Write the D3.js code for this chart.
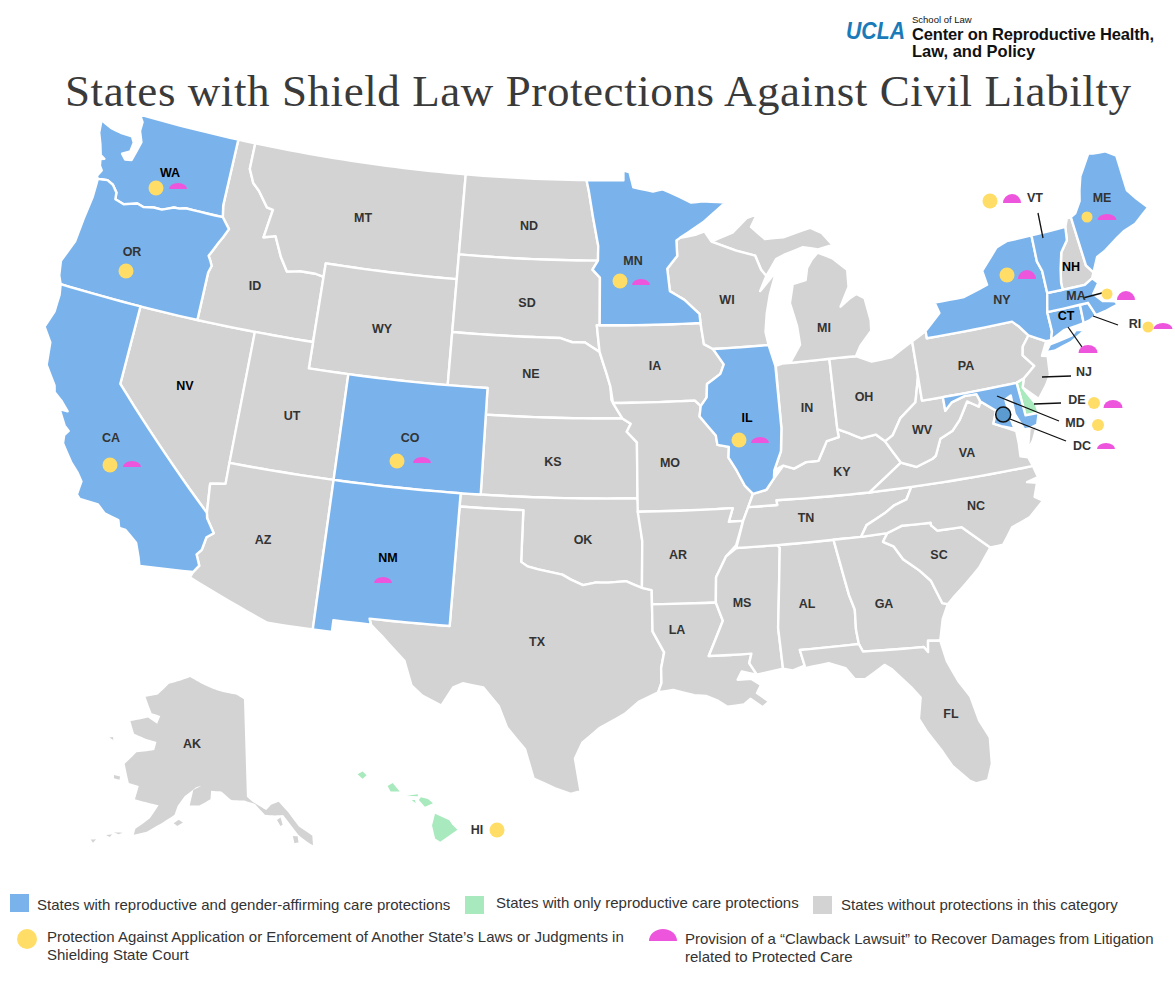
<![CDATA[<!DOCTYPE html>
<html><head><meta charset="utf-8">
<script src="https://cdn.jsdelivr.net/npm/d3@7"></script>
<style>
html,body{margin:0;padding:0;background:#fff}
svg{display:block}
text{font-family:"Liberation Sans",Arial,sans-serif}
</style></head><body><svg id="c" width="1175" height="1000"></svg><script>
// ---------- categories ----------
const bothCareStates = ["WA","OR","CA","CO","NM","MN","IL","NY","VT","ME","MA","CT","RI","MD"];
const reproOnlyStates = ["DE","HI"];
const shieldCourtStates = ["WA","OR","CA","CO","MN","IL","NY","VT","ME","MA","RI","DE","MD","HI"];
const clawbackStates = ["WA","CA","CO","NM","MN","IL","NY","VT","ME","MA","RI","CT","DE","DC"];
const darkLabelStates = ["WA","NV","IL","NM","NH","CT"];
const legendRows = [
 "States with reproductive and gender-affirming care protections",
 "States with only reproductive care protections",
 "States without protections in this category"];
const legendShield = ["Protection Against Application or Enforcement of Another State\u2019s Laws or Judgments in","Shielding State Court"];
const legendClawback = ["Provision of a \u201CClawback Lawsuit\u201D to Recover Damages from Litigation","related to Protected Care"];
const titleText = "States with Shield Law Protections Against Civil Liabilty";

// ---------- state outlines (longitude, latitude) ----------
const WA=[[[-117.03,49],[-117.04,46.42],[-116.92,45.99],[-118.98,46],[-119.3,45.93],[-119.6,45.92],[-120.2,45.73],[-120.65,45.73],[-121.2,45.65],[-121.55,45.72],[-122.25,45.55],[-122.75,45.65],[-122.8,45.9],[-123.1,46.15],[-123.45,46.26],[-123.97,46.2],[-124.07,46.3],[-123.9,46.55],[-124.07,46.7],[-124.15,46.95],[-123.95,47],[-124.2,47.1],[-124.4,47.5],[-124.65,47.9],[-124.73,48.38],[-124.1,48.2],[-123.5,48.13],[-122.85,48.12],[-122.65,47.9],[-122.7,47.55],[-123.1,47.38],[-122.85,47.2],[-122.5,47.25],[-122.38,47.6],[-122.25,48],[-122.5,48.4],[-122.5,48.75],[-122.76,49]]];
const OR=[[[-123.97,46.2],[-123.45,46.26],[-123.1,46.15],[-122.8,45.9],[-122.75,45.65],[-122.25,45.55],[-121.55,45.72],[-121.2,45.65],[-120.65,45.73],[-120.2,45.73],[-119.6,45.92],[-119.3,45.93],[-118.98,46],[-116.92,45.99],[-116.46,45.6],[-116.67,45.25],[-116.85,45],[-117.2,44.45],[-117.03,44.25],[-116.93,44.1],[-117.03,43.83],[-117.03,42],[-124.21,42],[-124.41,42.3],[-124.55,42.84],[-124.15,43.7],[-124.07,44.6],[-123.95,45.5]]];
const CA=[[[-124.21,42],[-120,42],[-120,39],[-114.63,35],[-114.57,34.8],[-114.14,34.3],[-114.43,34.1],[-114.53,33.6],[-114.72,33.4],[-114.5,33],[-114.72,32.72],[-117.12,32.53],[-117.25,32.85],[-117.5,33.35],[-118.1,33.73],[-118.4,33.75],[-118.52,34.03],[-119.2,34.15],[-119.6,34.42],[-120.47,34.45],[-120.65,34.58],[-120.6,35.1],[-120.9,35.4],[-121.3,35.7],[-121.9,36.3],[-121.95,36.6],[-121.8,36.8],[-122.05,36.95],[-122.5,37.5],[-122.1,37.5],[-122.5,37.8],[-122.95,38.05],[-123.05,38.3],[-123.7,38.95],[-123.85,39.8],[-124.35,40.3],[-124.1,40.95],[-124.1,41.6]]];
const NV=[[[-120,42],[-114.04,42],[-114.04,36.2],[-114.75,36.1],[-114.63,35],[-120,39]]];
const ID=[[[-117.03,49],[-116.05,49],[-116.05,48],[-115.7,47.5],[-115.3,47.25],[-114.7,46.7],[-114.35,46.65],[-114.56,45.56],[-113.94,45.69],[-113.45,44.95],[-113,44.45],[-112.3,44.55],[-111.5,44.55],[-111.05,44.48],[-111.05,42],[-117.03,42],[-117.03,43.83],[-116.93,44.1],[-117.03,44.25],[-117.2,44.45],[-116.85,45],[-116.67,45.25],[-116.46,45.6],[-116.92,45.99],[-117.04,46.42]]];
const MT=[[[-116.05,49],[-104.05,49],[-104.05,45],[-111.05,45],[-111.05,44.48],[-111.5,44.55],[-112.3,44.55],[-113,44.45],[-113.45,44.95],[-113.94,45.69],[-114.56,45.56],[-114.35,46.65],[-114.7,46.7],[-115.3,47.25],[-115.7,47.5],[-116.05,48]]];
const WY=[[[-111.05,45],[-104.05,45],[-104.05,41],[-111.05,41]]];
const UT=[[[-114.05,42],[-111.05,42],[-111.05,41],[-109.05,41],[-109.05,37],[-114.05,37]]];
const CO=[[[-109.05,41],[-102.05,41],[-102.05,37],[-109.05,37]]];
const AZ=[[[-114.05,37],[-109.05,37],[-109.05,31.33],[-111.07,31.33],[-114.81,32.5],[-114.72,32.72],[-114.5,33],[-114.72,33.4],[-114.53,33.6],[-114.43,34.1],[-114.14,34.3],[-114.57,34.8],[-114.63,35],[-114.75,36.1],[-114.04,36.2]]];
const NM=[[[-109.05,37],[-103,37],[-103.05,32],[-106.62,32],[-106.53,31.78],[-108.2,31.78],[-108.2,31.33],[-109.05,31.33]]];
const ND=[[[-104.05,49],[-97.23,49],[-97.1,48.6],[-96.85,47.6],[-96.55,46.5],[-96.56,45.94],[-104.05,45.94]]];
const SD=[[[-104.05,45.94],[-96.56,45.94],[-96.85,45.6],[-96.45,45.3],[-96.45,43.5],[-96.6,43.5],[-96.45,42.5],[-97.2,42.85],[-97.85,42.85],[-98.5,43],[-104.05,43]]];
const NE=[[[-104.05,43],[-98.5,43],[-97.85,42.85],[-97.2,42.85],[-96.45,42.5],[-96.1,41.7],[-95.9,41.2],[-95.85,40.7],[-95.31,40],[-102.05,40],[-102.05,41],[-104.05,41]]];
const KS=[[[-102.05,40],[-95.31,40],[-94.9,39.8],[-95.1,39.5],[-94.61,39.1],[-94.62,37],[-102.05,37]]];
const OK=[[[-103,37],[-94.62,37],[-94.43,35.4],[-94.48,33.64],[-95.2,33.9],[-96,33.85],[-96.6,33.85],[-97.15,33.75],[-97.7,33.95],[-98.1,34.13],[-99.2,34.3],[-99.7,34.4],[-100,34.56],[-100,36.5],[-103,36.5]]];
const TX=[[[-103,36.5],[-100,36.5],[-100,34.56],[-99.7,34.4],[-99.2,34.3],[-98.1,34.13],[-97.7,33.95],[-97.15,33.75],[-96.6,33.85],[-96,33.85],[-95.2,33.9],[-94.48,33.64],[-94.04,33.55],[-94.04,33.02],[-94.04,32],[-93.55,31.2],[-93.7,30.6],[-93.7,30.05],[-93.85,29.7],[-94.7,29.35],[-95.3,28.9],[-96.4,28.35],[-97.1,27.8],[-97.4,27.2],[-97.15,25.96],[-97.55,25.85],[-98.2,26.05],[-99.1,26.4],[-99.5,27.5],[-100.3,28.3],[-100.7,29.1],[-101.4,29.77],[-102.3,29.88],[-102.7,29.7],[-103.15,28.98],[-104,29.3],[-104.5,29.65],[-104.9,30.55],[-106,31.4],[-106.53,31.78],[-106.62,32],[-103.05,32]]];
const MN=[[[-97.23,49],[-95.15,49],[-95.15,49.38],[-94.8,49.3],[-94.6,48.72],[-93.5,48.55],[-92.95,48.62],[-92,48.3],[-91.4,48.07],[-90.75,48.1],[-89.5,48],[-90.8,47.3],[-92.1,46.75],[-92.3,46.66],[-92.29,46.07],[-92.85,45.6],[-92.75,44.75],[-92,44.4],[-91.25,43.85],[-91.22,43.5],[-96.45,43.5],[-96.45,45.3],[-96.85,45.6],[-96.56,45.94],[-96.55,46.5],[-96.85,47.6],[-97.1,48.6]]];
const IA=[[[-96.6,43.5],[-91.22,43.5],[-91.1,42.7],[-90.65,42.5],[-90.15,41.9],[-90.35,41.55],[-91.05,41.2],[-91.1,40.7],[-91.42,40.38],[-91.7,40.6],[-95.77,40.58],[-95.9,41.2],[-96.1,41.7],[-96.45,42.5]]];
const MO=[[[-95.77,40.58],[-91.7,40.6],[-91.42,40.38],[-91.5,40],[-90.75,39.25],[-90.7,38.9],[-90.15,38.8],[-90.2,38.4],[-89.85,37.9],[-89.5,37.3],[-89.15,36.98],[-89.42,36.5],[-89.7,36],[-90.37,36],[-90.15,36.5],[-94.62,36.5],[-94.62,37],[-94.61,39.1],[-95.1,39.5],[-94.9,39.8],[-95.31,40]]];
const AR=[[[-94.62,36.5],[-90.15,36.5],[-90.37,36],[-89.7,36],[-90.1,35.1],[-90.6,34.7],[-91.1,33.95],[-91.17,33],[-94.04,33.02],[-94.04,33.55],[-94.48,33.64],[-94.43,35.4]]];
const LA=[[[-94.04,33.02],[-91.17,33],[-90.9,32.3],[-91.6,31],[-89.73,31],[-89.85,30.65],[-89.55,30.2],[-90.2,30.35],[-90.4,30.05],[-89.8,30.05],[-89.4,29.8],[-89.6,29.5],[-89.1,29.15],[-89.4,28.95],[-89.9,29.3],[-90.2,29.1],[-90.9,29.05],[-91.3,29.3],[-91.8,29.5],[-92.3,29.55],[-93.2,29.77],[-93.85,29.7],[-93.7,30.05],[-93.7,30.6],[-93.55,31.2],[-94.04,32]]];
const MS=[[[-90.1,35],[-88.2,35],[-88.1,34.9],[-88.47,31.9],[-88.4,30.35],[-89.55,30.2],[-89.85,30.65],[-89.73,31],[-91.6,31],[-90.9,32.3],[-91.17,33],[-91.1,33.95],[-90.6,34.7]]];
const AL=[[[-88.2,35],[-85.6,35],[-85.18,32.87],[-85,32.3],[-85.05,31.55],[-85,31],[-87.6,31],[-87.45,30.4],[-88,30.25],[-88.4,30.35],[-88.47,31.9],[-88.1,34.9]]];
const TN=[[[-89.7,36],[-89.42,36.5],[-88.05,36.5],[-88.07,36.68],[-83.68,36.6],[-81.68,36.59],[-82,36.15],[-82.6,36],[-83.1,35.75],[-84,35.4],[-84.32,34.99],[-85.6,35],[-88.2,35],[-90.1,35]]];
const KY=[[[-89.42,36.5],[-89.15,36.98],[-88.5,37.1],[-88.1,37.5],[-87.6,37.95],[-87.1,37.8],[-86.5,38],[-85.9,38],[-85.4,38.7],[-84.8,38.8],[-84.82,39.1],[-84.3,38.9],[-83.7,38.65],[-83,38.72],[-82.6,38.42],[-82,37.55],[-83.68,36.6],[-88.07,36.68],[-88.05,36.5]]];
const IL=[[[-90.65,42.5],[-87.8,42.5],[-87.55,41.7],[-87.53,39.35],[-87.65,38.5],[-88.05,37.8],[-88.1,37.5],[-88.5,37.1],[-89.15,36.98],[-89.5,37.3],[-89.85,37.9],[-90.2,38.4],[-90.15,38.8],[-90.7,38.9],[-90.75,39.25],[-91.5,40],[-91.42,40.38],[-91.1,40.7],[-91.05,41.2],[-90.35,41.55],[-90.15,41.9]]];
const IN=[[[-87.53,41.7],[-87.2,41.76],[-84.8,41.76],[-84.82,39.1],[-84.8,38.8],[-85.4,38.7],[-85.9,38],[-86.5,38],[-87.1,37.8],[-87.6,37.95],[-88.05,37.8],[-87.65,38.5],[-87.53,39.35]]];
const OH=[[[-84.8,41.76],[-83.45,41.73],[-82.7,41.45],[-81.7,41.5],[-80.52,41.98],[-80.52,40.64],[-80.85,39.7],[-81.7,39.2],[-82.2,38.6],[-82.6,38.42],[-83,38.72],[-83.7,38.65],[-84.3,38.9],[-84.82,39.1]]];
const MI=[[[-86.8,41.76],[-84.8,41.76],[-83.45,41.73],[-83.15,42.1],[-82.5,42.6],[-82.45,43],[-82.6,43.85],[-83,44.05],[-83.4,43.9],[-83.9,43.65],[-83.35,44.35],[-83.3,45],[-84,45.5],[-84.75,45.78],[-85.1,45.55],[-85.4,45.25],[-85.55,44.8],[-86.25,44.7],[-86.5,44],[-86.25,43.1],[-86.2,42.4]],
 [[-90.4,46.55],[-89.2,46.85],[-88.4,47.35],[-87.8,47.47],[-88.2,47],[-87.5,46.5],[-86.5,46.5],[-85,46.75],[-84.4,46.5],[-83.9,46],[-84.7,45.9],[-85.5,46.05],[-86.5,45.85],[-87,45.7],[-87.6,45.1],[-87.85,45.35],[-88.1,45.9],[-89.1,46.15]]];
const WI=[[[-92.1,46.75],[-91.2,46.85],[-90.75,46.95],[-90.4,46.55],[-89.1,46.15],[-88.1,45.9],[-87.85,45.35],[-87.6,45.1],[-88,44.55],[-87.05,45.25],[-87.5,44.4],[-87.75,43.7],[-87.9,43],[-87.8,42.5],[-90.65,42.5],[-91.1,42.7],[-91.22,43.5],[-91.25,43.85],[-92,44.4],[-92.75,44.75],[-92.85,45.6],[-92.29,46.07],[-92.3,46.66]]];
const GA=[[[-85.6,35],[-84.32,34.99],[-83.1,35],[-83.35,34.7],[-82.9,34.48],[-82.55,33.95],[-81.9,33.45],[-81.45,33],[-81.1,32.1],[-80.87,32.03],[-81.2,31.5],[-81.45,30.72],[-81.98,30.78],[-82.05,30.36],[-82.2,30.57],[-84.86,30.7],[-85,31],[-85.05,31.55],[-85,32.3],[-85.18,32.87]]];
const FL=[[[-87.6,31],[-85,31],[-84.86,30.7],[-82.2,30.57],[-82.05,30.36],[-81.98,30.78],[-81.45,30.72],[-81.3,29.9],[-80.95,29.1],[-80.55,28.45],[-80.35,27.5],[-80.03,26.8],[-80.13,25.8],[-80.4,25.2],[-80.9,25.15],[-81.15,25.3],[-81.75,25.95],[-82.1,26.6],[-82.6,27.4],[-82.85,27.9],[-82.65,28.7],[-83,29.15],[-83.7,29.9],[-84,30.1],[-84.9,29.65],[-85.35,29.7],[-85.7,30.15],[-86.4,30.4],[-87.45,30.3],[-87.45,30.4]]];
const SC=[[[-83.35,34.7],[-83.1,35],[-82.4,35.2],[-81.05,35.15],[-81.05,35.05],[-80.8,34.82],[-79.67,34.8],[-78.55,33.86],[-79.2,33.2],[-79.9,32.7],[-80.5,32.3],[-80.87,32.03],[-81.1,32.1],[-81.45,33],[-81.9,33.45],[-82.55,33.95],[-82.9,34.48]]];
const NC=[[[-84.32,34.99],[-84,35.4],[-83.1,35.75],[-82.6,36],[-82,36.15],[-81.68,36.59],[-75.87,36.55],[-75.75,36.1],[-76.3,36],[-75.85,35.9],[-76.1,35.4],[-75.75,35.2],[-76.5,34.7],[-77.4,34.45],[-77.95,33.88],[-78.55,33.86],[-79.67,34.8],[-80.8,34.82],[-81.05,35.05],[-81.05,35.15],[-82.4,35.2],[-83.1,35]]];
const VA=[[[-83.68,36.6],[-82,37.55],[-81.3,37.3],[-80.5,37.5],[-80.3,37.6],[-79.95,38.2],[-79.3,38.42],[-78.87,38.77],[-78.35,39.4],[-77.83,39.13],[-77.72,39.32],[-77.05,38.85],[-77.3,38.4],[-76.95,38.25],[-76.3,37.95],[-76.3,37.5],[-76.35,37],[-76,36.9],[-75.87,36.55],[-81.68,36.59]],
 [[-75.95,37.15],[-75.65,37.95],[-75.25,38.03],[-75.6,37.5]]];
const WV=[[[-82.6,38.42],[-82.2,38.6],[-81.7,39.2],[-80.85,39.7],[-80.52,40.64],[-80.52,39.72],[-79.48,39.72],[-79.48,39.2],[-79.1,39.47],[-78.4,39.62],[-77.83,39.6],[-77.72,39.32],[-77.83,39.13],[-78.35,39.4],[-78.87,38.77],[-79.3,38.42],[-79.95,38.2],[-80.3,37.6],[-80.5,37.5],[-81.3,37.3],[-82,37.55]]];
const PA=[[[-80.52,41.98],[-79.76,42.27],[-79.76,42],[-75.35,42],[-75.05,41.75],[-74.7,41.36],[-75.1,41],[-75.2,40.68],[-74.75,40.2],[-75.4,39.82],[-75.79,39.72],[-80.52,39.72]]];
const NJ=[[[-74.7,41.36],[-73.9,41],[-74.27,40.5],[-74,40.45],[-74.1,39.75],[-74.4,39.4],[-74.9,38.95],[-75.55,39.5],[-75.4,39.82],[-74.75,40.2],[-75.2,40.68],[-75.1,41]]];
const NY=[[[-79.76,42],[-79.76,42.27],[-78.9,42.85],[-79.05,43.27],[-77.5,43.27],[-76.2,43.55],[-76.3,44.1],[-75.3,44.85],[-74.7,45],[-73.35,45],[-73.4,44],[-73.25,43.6],[-73.27,42.75],[-73.5,42.05],[-73.5,41.3],[-73.65,41],[-73.9,41],[-74.7,41.36],[-75.05,41.75],[-75.35,42]],
 [[-74.03,40.6],[-73.75,40.85],[-72.6,40.98],[-72.3,41.15],[-71.9,41.05],[-72.7,40.75],[-73.6,40.58]]];
const CT=[[[-73.5,42.05],[-71.8,42.02],[-71.85,41.32],[-72.9,41.25],[-73.65,41],[-73.5,41.3]]];
const RI=[[[-71.8,42.02],[-71.38,42.02],[-71.15,41.5],[-71.5,41.37],[-71.85,41.32]]];
const MA=[[[-73.5,42.05],[-73.27,42.75],[-71.3,42.7],[-70.85,42.87],[-70.6,42.65],[-71,42.3],[-70.65,41.95],[-70,41.8],[-70.2,42.07],[-69.95,41.67],[-70.65,41.55],[-71.15,41.5],[-71.38,42.02]]];
const VT=[[[-73.35,45],[-71.5,45],[-71.6,44.5],[-72.05,44.1],[-72.3,43.5],[-72.45,43],[-72.46,42.73],[-73.27,42.75],[-73.25,43.6],[-73.4,44]]];
const NH=[[[-71.5,45],[-71.3,45.3],[-71.08,45.3],[-70.98,43.4],[-70.7,43.07],[-70.85,42.87],[-71.3,42.7],[-72.46,42.73],[-72.45,43],[-72.3,43.5],[-72.05,44.1],[-71.6,44.5]]];
const ME=[[[-71.08,45.3],[-70.8,45.4],[-70.4,45.8],[-70.25,46.2],[-70,46.7],[-69.23,47.46],[-69,47.4],[-68.3,47.35],[-67.8,47.07],[-67.8,45.7],[-67.45,45.3],[-67,44.85],[-67.9,44.4],[-68.6,44.25],[-69,44.1],[-69.8,43.75],[-70.3,43.6],[-70.7,43.07],[-70.98,43.4]]];
const DE=[[[-75.79,39.72],[-75.4,39.82],[-75.55,39.5],[-75.1,38.8],[-75.05,38.45],[-75.7,38.46]]];
const MD=[[[-79.48,39.72],[-75.79,39.72],[-75.7,38.46],[-75.05,38.45],[-75.25,38.03],[-75.65,37.95],[-75.9,37.95],[-76.2,38.6],[-76.2,39.3],[-76.5,39.2],[-76.45,38.5],[-76.35,38.05],[-76.95,38.25],[-77.3,38.4],[-77.05,38.85],[-77.72,39.32],[-77.83,39.6],[-78.4,39.62],[-79.1,39.47],[-79.48,39.2]]];
const AK=[[[-141,69.65],[-141,60.3],[-139.9,59.8],[-137.5,58.95],[-136.5,59.4],[-135,59.6],[-133.5,58.5],[-132,57],[-130.5,56.2],[-130,55.9],[-130.2,55],[-131,55.4],[-132.3,56.2],[-133.5,57.4],[-134.5,58.3],[-136,58.35],[-137.8,58.5],[-139.5,59.6],[-141.5,59.95],[-144,60],[-146,60.8],[-148,60.8],[-148,60],[-150,59.3],[-151.8,59.2],[-151.5,60.7],[-150,61.2],[-151,61],[-153,60],[-154,59],[-154.3,58.1],[-156.5,57],[-158.5,56],[-160.5,55.4],[-160.5,56],[-158.5,57.3],[-157.5,58.7],[-159,58.7],[-162,58.7],[-162,60],[-164,60],[-166,61.6],[-164.5,63],[-161,63.7],[-161,64.5],[-163.5,64.5],[-166.3,64.6],[-168.1,65.6],[-164.5,66.5],[-162,66.2],[-161.8,67],[-164,67],[-166.8,68.3],[-164,68.9],[-162,70.2],[-156.6,71.35],[-152,70.8],[-148,70.4],[-143,70.1]],
 [[-154.2,57.3],[-153.4,57.7],[-152.6,57.5],[-153.5,57.1]],
 [[-167.2,60.25],[-166,60.3],[-165.9,60],[-167,59.95]],
 [[-171,63.4],[-170,63.3],[-170.3,63.55]],
 [[-163.8,55.1],[-162.4,55.3],[-163,55.05]],
 [[-164.9,54.6],[-164,54.85],[-164.2,54.55]],
 [[-167,53.7],[-166.2,53.9],[-166.5,53.5]],
 [[-135.7,57.9],[-135,58.1],[-134.8,57.4],[-135.2,57.3]],
 [[-133.3,56.2],[-132.5,56.1],[-132.5,55.5],[-133.2,55.5]]];
const HI=[[[-155.9,20.25],[-155.2,19.95],[-155.05,19.73],[-154.8,19.5],[-155.65,18.95],[-155.9,19.1],[-156.05,19.7]],
 [[-156.7,20.9],[-156.6,21.03],[-156.25,20.95],[-156,20.75],[-156.4,20.58]],
 [[-158.25,21.55],[-158,21.7],[-157.65,21.3],[-158.1,21.3]],
 [[-159.75,22.1],[-159.5,22.22],[-159.3,22.05],[-159.5,21.88]],
 [[-157.3,21.1],[-156.75,21.17],[-156.75,21.08]],
 [[-157.05,20.9],[-156.9,20.9],[-156.85,20.75]]];
const DC_POINT=[-76.75,38.66];

const contiguous={WA,OR,CA,NV,ID,MT,WY,UT,CO,AZ,NM,ND,SD,NE,KS,OK,TX,MN,IA,MO,AR,LA,MS,AL,TN,KY,IL,IN,OH,MI,WI,GA,FL,SC,NC,VA,WV,PA,NJ,NY,CT,RI,MA,VT,NH,ME,DE,MD};

// ---------- projections ----------
const albers=d3.geoAlbers().scale(1530).translate([596,453]);
const pMain=p=>{const [x,y]=albers(p);return [x,470+(y-470)*0.99];};
const pAK=d3.geoConicEqualArea().rotate([143,0]).center([2,60]).parallels([55,65]).scale(600).translate([247,800]);
const pHI=d3.geoConicEqualArea().rotate([157,0]).center([-3,19.9]).parallels([8,18]).scale(1230).translate([352,821]);

const C={both:"#7ab3ec",repro:"#a8eabd",none:"#d3d3d3",shield:"#ffdd66",claw:"#ee55dd",text:"#333333"};
const svg=d3.select("#c");
const line=d3.line().curve(d3.curveLinearClosed);
function densify(r){const o=[];r.forEach((p,i)=>{const q=r[(i+1)%r.length];const n=Math.max(1,Math.ceil(Math.max(Math.abs(q[0]-p[0]),Math.abs(q[1]-p[1]))/0.5));for(let k=0;k<n;k++)o.push([p[0]+(q[0]-p[0])*k/n,p[1]+(q[1]-p[1])*k/n]);});return o;}
const shape=(rings,proj)=>rings.map(r=>line(densify(r).map(proj))).join("");
const fillOf=n=>bothCareStates.includes(n)?C.both:reproOnlyStates.includes(n)?C.repro:C.none;

const names=Object.keys(contiguous);
svg.append("g").selectAll("path").data(names.filter(n=>fillOf(n)===C.none).concat(names.filter(n=>fillOf(n)!==C.none))).join("path")
 .attr("d",n=>shape(contiguous[n],pMain)).attr("fill",fillOf).attr("stroke","#fff").attr("stroke-width",2.4).attr("stroke-linejoin","round");
svg.append("path").attr("d",shape(AK,pAK)).attr("fill",C.none);
svg.append("path").attr("d",shape(HI,pHI)).attr("fill",C.repro);

// ---------- annotation layout (pixels on the page) ----------
const labelAt={WA:[170,172],OR:[132,251],CA:[111,437],NV:[185,385],ID:[255,285],MT:[363,217],WY:[382,328],UT:[292,415],CO:[410,437],AZ:[263,539],NM:[388,557],ND:[529,225],SD:[527,302],NE:[531,373],KS:[553,461],OK:[583,539],TX:[537,641],MN:[633,260],IA:[655,365],MO:[670,462],AR:[678,554],LA:[677,629],WI:[727,299],IL:[747,417],MI:[824,327],IN:[807,407],OH:[864,396],KY:[842,471],TN:[806,517],MS:[742,602],AL:[807,603],GA:[884,603],FL:[951,713],SC:[939,554],NC:[976,505],VA:[967,452],WV:[922,429],PA:[966,365],NY:[1002,299],VT:[1035,197],NH:[1071,266],ME:[1102,197],MA:[1076,295],CT:[1066,315],RI:[1135,323],NJ:[1084,371],DE:[1077,399],MD:[1075,422],DC:[1082,445],AK:[192,743],HI:[477,829]};
const shieldAt={WA:[156,188,7.5],OR:[126,271,7.5],CA:[110,465,7.5],CO:[397,461,7.5],MN:[620,281,7.5],IL:[739,440,7.5],NY:[1007,275,7.5],VT:[990,201,7.5],ME:[1087,217,5.5],MA:[1107,294,5.5],RI:[1148,327,5.5],DE:[1094,403,6],MD:[1098,425,6],HI:[497,830,7.5]};
const clawAt={WA:[178,189,9,6],CA:[132,467,9,6],CO:[422,463,9,6],NM:[383,583,9,6],MN:[641,285,9,6],IL:[760,443,9,6],NY:[1027,279,9,9],VT:[1012,203,9,9],ME:[1107,220,9.5,6],MA:[1126,300,9,9],RI:[1163,329,9.5,6],CT:[1088,353,9.5,8],DE:[1113,408,9.5,8],DC:[1106,449,9,6]};
const leaders=[[1038,213,1043,238],[1083,298,1102,293],[1093,316,1118,325],[1068,327,1082,347],[1042,377,1071,376],[1034,404,1061,403],[997,396,1059,421],[1010,419,1066,441]];

const dc=pMain(DC_POINT);
svg.append("circle").attr("cx",dc[0]).attr("cy",dc[1]).attr("r",7.5).attr("fill","#5b9bd0").attr("stroke","#111").attr("stroke-width",1.5);
svg.append("g").selectAll("line").data(leaders).join("line")
 .attr("x1",d=>d[0]).attr("y1",d=>d[1]).attr("x2",d=>d[2]).attr("y2",d=>d[3]).attr("stroke","#111").attr("stroke-width",1.3);

svg.append("g").selectAll("text").data(Object.keys(labelAt)).join("text")
 .attr("x",n=>labelAt[n][0]).attr("y",n=>labelAt[n][1]+4.5).attr("text-anchor","middle")
 .attr("font-size",12.5).attr("font-weight",700).attr("fill",n=>darkLabelStates.includes(n)?"#000":C.text).text(n=>n);

svg.append("g").selectAll("circle").data(shieldCourtStates).join("circle")
 .attr("cx",n=>shieldAt[n][0]).attr("cy",n=>shieldAt[n][1]).attr("r",n=>shieldAt[n][2]).attr("fill",C.shield);
const dome=(x,y,rx,ry)=>`M${x-rx},${y}A${rx},${ry} 0 0 1 ${x+rx},${y}Z`;
svg.append("g").selectAll("path").data(clawbackStates).join("path")
 .attr("d",n=>dome(...clawAt[n])).attr("fill",C.claw);

// ---------- title and logo ----------
svg.append("text").attr("x",598).attr("y",106).attr("text-anchor","middle").attr("font-size",45)
 .attr("textLength",1066).attr("lengthAdjust","spacing").style("font-family","'Liberation Serif',serif").attr("fill","#3a3a3a").text(titleText);
svg.append("text").attr("x",846).attr("y",39).attr("font-size",24.5).attr("font-weight",700).attr("font-style","italic").attr("fill","#1b7ab8").attr("textLength",59).attr("lengthAdjust","spacingAndGlyphs").text("UCLA");
svg.append("text").attr("x",912).attr("y",23).attr("font-size",9.5).attr("fill","#111").text("School of Law");
svg.append("text").attr("x",912).attr("y",40).attr("font-size",16.5).attr("font-weight",700).attr("fill","#111").attr("textLength",242).text("Center on Reproductive Health,");
svg.append("text").attr("x",912).attr("y",57).attr("font-size",16.5).attr("font-weight",700).attr("fill","#111").text("Law, and Policy");

// ---------- legend ----------
const lg=svg.append("g");
const swatches=[[10,894,19,18,C.both,37,910],[465,896,19,18,C.repro,496,908],[813,896,19,18,C.none,841,910]];
lg.selectAll("rect").data(swatches).join("rect").attr("x",d=>d[0]).attr("y",d=>d[1]).attr("width",d=>d[2]).attr("height",d=>d[3]).attr("fill",d=>d[4]);
lg.selectAll("text.sw").data(swatches).join("text").attr("class","sw").attr("x",d=>d[5]).attr("y",d=>d[6]).attr("font-size",15).attr("fill",C.text).text((d,i)=>legendRows[i]);
lg.append("circle").attr("cx",27).attr("cy",939).attr("r",10).attr("fill",C.shield);
lg.append("path").attr("d",dome(663,941,14,12)).attr("fill",C.claw);
legendShield.forEach((t,i)=>lg.append("text").attr("x",47).attr("y",942+18*i).attr("font-size",15).attr("fill",C.text).text(t));
legendClawback.forEach((t,i)=>lg.append("text").attr("x",685).attr("y",944+18*i).attr("font-size",15).attr("fill",C.text).text(t));
</script></body></html>]]>
